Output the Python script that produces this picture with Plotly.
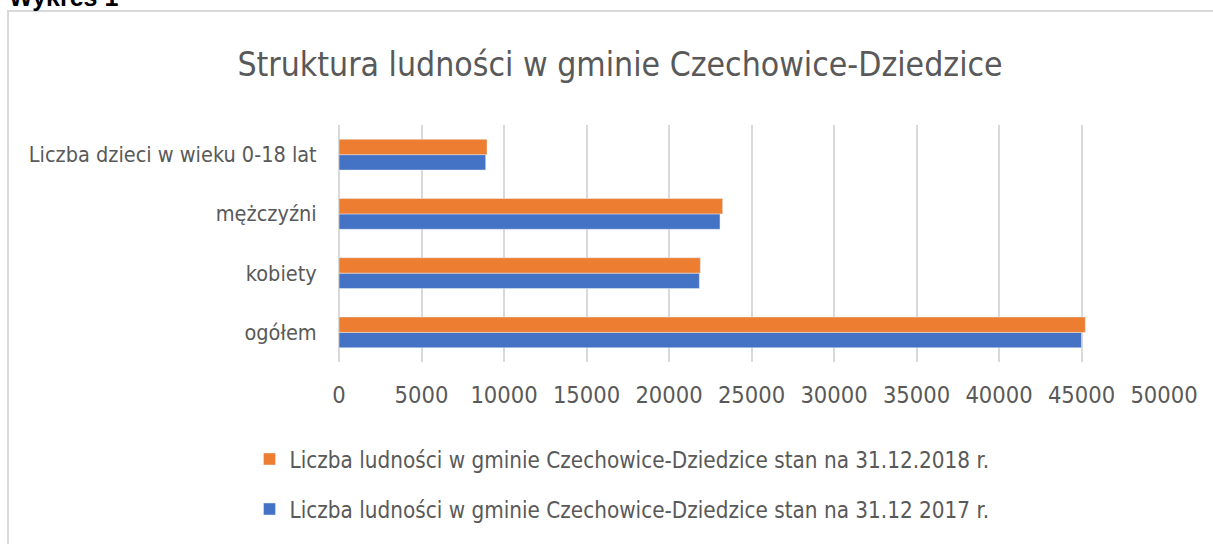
import plotly.graph_objects as go

categories = ["ogółem", "kobiety", "mężczyźni", "Liczba dzieci w wieku 0-18 lat"]
values_2017 = [45000, 21840, 23090, 8890]
values_2018 = [45230, 21900, 23250, 8970]
name_2017 = "Liczba ludności w gminie Czechowice-Dziedzice stan na 31.12 2017 r."
name_2018 = "Liczba ludności w gminie Czechowice-Dziedzice stan na 31.12.2018 r."
x_ticks = [0, 5000, 10000, 15000, 20000, 25000, 30000, 35000, 40000, 45000, 50000]
x_tick_labels = [str(v) for v in x_ticks]

W, H = 1213, 544
L, R, T, B = 339, 1164, 125, 362

def px(x):
    return (x - L) / (R - L)

def py(y):
    return (B - y) / (B - T)

FONT = "Liberation Sans Narrow, DejaVu Sans Condensed, Roboto Condensed, Liberation Sans, sans-serif"
GRAY = "#595959"
GRID = "#d9d9d9"

fig = go.Figure()
fig.add_trace(go.Bar(y=categories, x=values_2017, orientation="h", name=name_2017,
                     marker_color="#4472C4", legendgroup="a", legendrank=2))
fig.add_trace(go.Bar(y=categories, x=values_2018, orientation="h", name=name_2018,
                     marker_color="#ED7D31", legendgroup="b", legendrank=1))

fig.update_layout(
    width=W, height=H,
    margin=dict(l=L, r=W - R, t=T, b=H - B, autoexpand=False),
    paper_bgcolor="white", plot_bgcolor="white",
    barmode="group", bargap=0.48, bargroupgap=0,
    font=dict(family=FONT, color=GRAY, size=23),
    title=dict(text="Struktura ludności w gminie Czechowice-Dziedzice",
               xref="paper", x=px(620), xanchor="center",
               yref="container", y=1 - 64 / H, yanchor="middle",
               font=dict(size=33.5, color=GRAY, family=FONT)),
    legend=dict(orientation="v", x=px(622), xanchor="center", y=py(438), yanchor="top",
                traceorder="grouped", tracegroupgap=18,
                font=dict(size=22.3, color=GRAY, family=FONT)),
    xaxis=dict(range=[0, 50000], tickvals=x_ticks, ticktext=x_tick_labels,
               showgrid=True, gridcolor=GRID, gridwidth=2,
               zeroline=True, zerolinecolor=GRID, zerolinewidth=2, showline=False,
               ticks="outside", ticklen=12, tickcolor="rgba(0,0,0,0)", automargin=False,
               tickfont=dict(size=23.5, color=GRAY)),
    yaxis=dict(showgrid=False, zeroline=False, showline=False, automargin=False,
               ticks="outside", ticklen=17, tickcolor="rgba(0,0,0,0)",
               tickfont=dict(size=21.5, color=GRAY)),
    showlegend=True,
)

# outer chart border
fig.add_shape(type="rect", xref="paper", yref="paper",
              x0=px(8), x1=px(W + 5), y0=py(H + 5), y1=py(11),
              line=dict(color=GRID, width=2), fillcolor="rgba(0,0,0,0)", layer="below")

# caption above the chart (cut off by the top edge)
fig.add_annotation(text="<b>Wykres 1</b>", xref="paper", yref="paper",
                   x=px(7), xanchor="left", y=py(-3), yanchor="middle",
                   showarrow=False, font=dict(family="Liberation Sans, Arial, sans-serif",
                                              size=25, color="black"))

fig.write_html("out.html", config={"displayModeBar": False},
               post_script="document.body.style.margin='0';")
